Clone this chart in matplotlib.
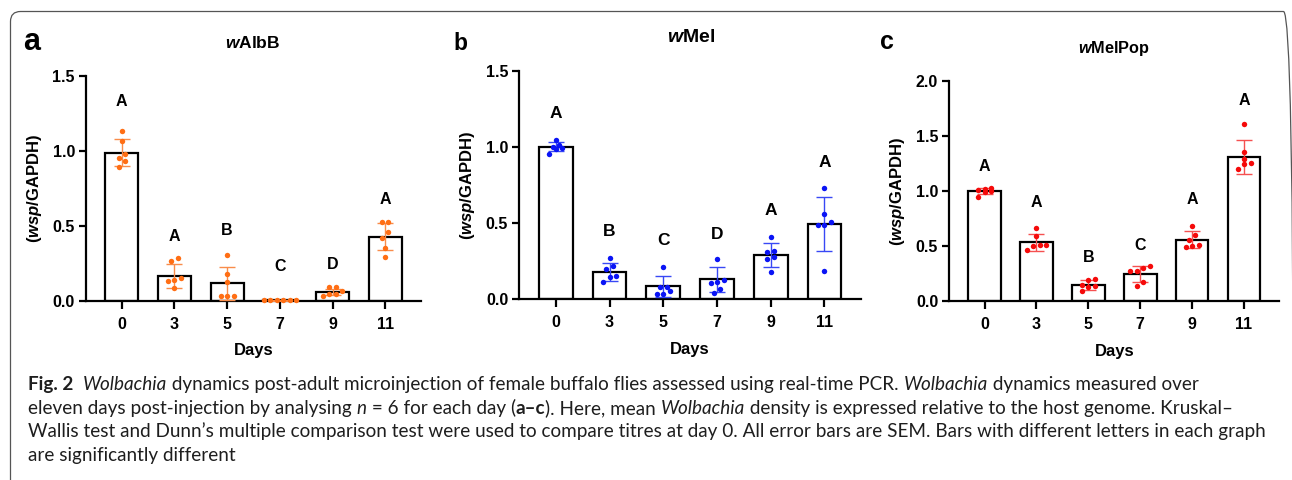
import numpy as np
import matplotlib
matplotlib.use("Agg")
import matplotlib.pyplot as plt
from matplotlib.patches import FancyBboxPatch
from matplotlib.transforms import IdentityTransform

plt.rcParams['font.family'] = ['Liberation Sans', 'DejaVu Sans']
plt.rcParams['font.weight'] = 'bold'
plt.rcParams['mathtext.fontset'] = 'custom'
plt.rcParams['mathtext.it'] = 'Liberation Sans:italic:bold'
plt.rcParams['mathtext.rm'] = 'Liberation Sans:bold'

W, H = 1292, 480

# ---- data ----
days = ['0', '3', '5', '7', '9', '11']

means_albb = [0.99, 0.17, 0.12, 0.005, 0.06, 0.43]
err_albb = [0.09, 0.08, 0.11, 0.003, 0.02, 0.09]
pts_albb = [[1.135, 1.067, 0.978, 0.955, 0.935, 0.895],
            [0.264, 0.287, 0.155, 0.138, 0.131, 0.085],
            [0.305, 0.182, 0.127, 0.036, 0.031, 0.036],
            [0.006, 0.005, 0.004, 0.006, 0.005, 0.004],
            [0.069, 0.091, 0.091, 0.049, 0.047, 0.035],
            [0.524, 0.529, 0.458, 0.420, 0.356, 0.296]]
letters_albb = ['A', 'A', 'B', 'C', 'D', 'A']
letter_y_albb = [1.33, 0.433, 0.467, 0.229, 0.245, 0.68]

means_mel = [1.0, 0.18, 0.085, 0.13, 0.29, 0.495]
err_mel = [0.03, 0.06, 0.07, 0.085, 0.08, 0.175]
pts_mel = [[1.000, 1.010, 1.045, 0.990, 0.985, 0.955],
           [0.269, 0.220, 0.200, 0.151, 0.144, 0.111],
           [0.214, 0.083, 0.079, 0.054, 0.033, 0.033],
           [0.262, 0.125, 0.114, 0.109, 0.066, 0.039],
           [0.411, 0.317, 0.310, 0.276, 0.262, 0.181],
           [0.730, 0.560, 0.507, 0.490, 0.490, 0.188]]
letters_mel = ['A', 'B', 'C', 'D', 'A', 'A']
letter_y_mel = [1.22, 0.444, 0.389, 0.428, 0.581, 0.899]

means_pop = [1.0, 0.535, 0.145, 0.25, 0.56, 1.31]
err_pop = [0.03, 0.08, 0.045, 0.075, 0.08, 0.155]
pts_pop = [[1.010, 1.016, 1.031, 0.992, 1.000, 0.949],
           [0.668, 0.595, 0.514, 0.510, 0.505, 0.463],
           [0.190, 0.202, 0.151, 0.130, 0.139, 0.091],
           [0.305, 0.318, 0.278, 0.278, 0.178, 0.139],
           [0.686, 0.600, 0.559, 0.514, 0.495, 0.504],
           [1.606, 1.352, 1.289, 1.258, 1.250, 1.200]]
letters_pop = ['A', 'A', 'B', 'C', 'A', 'A']
letter_y_pop = [1.228, 0.895, 0.396, 0.511, 0.928, 1.827]


def swarm_offsets(ax, xc, vals, d=6.5):
    """GraphPad-like scatter: points closer than d px in y share a centred row."""
    to_px = ax.transData.transform
    ypx = [to_px((xc, v))[1] for v in vals]
    order = np.argsort(ypx)
    px_per_x = to_px((1, 0))[0] - to_px((0, 0))[0]
    offs = np.zeros(len(vals))
    i = 0
    while i < len(order):
        row = [order[i]]
        j = i + 1
        while j < len(order) and ypx[order[j]] - ypx[order[i]] < d:
            row.append(order[j])
            j += 1
        n = len(row)
        for r, k in enumerate(row):
            offs[k] = (r - (n - 1) / 2) * d / px_per_x
        i = j
    return offs


def draw_panel(rect, means, errs, pts, letters, letter_y, ymax, col, ecol, lsize):
    ax = fig.add_axes(rect)
    x = np.arange(len(days))
    ax.set_xlim(-0.68, 5.68)
    ax.set_ylim(0, ymax)
    ax.bar(x, means, width=0.63, color='white', edgecolor='black', linewidth=1.6, zorder=2)
    ax.errorbar(x, means, yerr=errs, fmt='none', ecolor=ecol, elinewidth=1.0,
                capsize=6, capthick=1.0, zorder=3)
    for i in range(len(days)):
        offs = swarm_offsets(ax, x[i], pts[i])
        ax.plot(x[i] + offs, pts[i], 'o', color=col, ms=3.9, mew=0, zorder=4, clip_on=False)
        ax.text(x[i], letter_y[i], letters[i], ha='center', va='center', fontsize=lsize,
                fontweight='bold')
    for s in ['top', 'right']:
        ax.spines[s].set_visible(False)
    for s in ['left', 'bottom']:
        ax.spines[s].set_linewidth(1.6)
    ax.set_xticks(x)
    ax.set_xticklabels(days)
    yt = np.arange(0, ymax + 0.01, 0.5)
    ax.set_yticks(yt)
    ax.set_yticklabels([f'{v:.1f}' for v in yt])
    ax.tick_params(axis='y', direction='out', width=1.6, length=5, labelsize=11.5, pad=3)
    ax.tick_params(axis='x', direction='out', width=1.6, length=6, labelsize=11.5, pad=5.5)
    ax.set_xlabel('Days', fontsize=12, fontweight='bold')
    ax.xaxis.set_label_coords(0.5, -50 / (rect[3] * H))
    ax.xaxis.label.set_va('center')
    ax.set_ylabel(r'($\mathit{wsp}$/GAPDH)', fontsize=12, fontweight='bold')
    ax.yaxis.set_label_coords(-52 / (rect[2] * W), 0.5)
    ax.yaxis.label.set_va('center')
    return ax


fig = plt.figure(figsize=(W / 100, H / 100), dpi=100)

draw_panel([86 / W, 1 - 301 / H, 335 / W, 225 / H], means_albb, err_albb, pts_albb,
           letters_albb, letter_y_albb, 1.5, '#FF6E14', '#F98C4A', 11.5)
draw_panel([519.3 / W, 1 - 299.3 / H, 341.7 / W, 228.6 / H], means_mel, err_mel, pts_mel,
           letters_mel, letter_y_mel, 1.5, '#0A14F5', '#3848F5', 12.5)
draw_panel([949.3 / W, 1 - 301.3 / H, 330 / W, 220.3 / H], means_pop, err_pop, pts_pop,
           letters_pop, letter_y_pop, 2.0, '#F50A0A', '#F55050', 11.5)

# panel titles and letters
fig.text(253 / W, 1 - 43 / H, r'$\mathit{w}$AlbB', ha='center', va='center', fontsize=12.5)
fig.text(691 / W, 1 - 37 / H, r'$\mathit{w}$Mel', ha='center', va='center', fontsize=14)
fig.text(1114 / W, 1 - 49 / H, r'$\mathit{w}$MelPop', ha='center', va='center', fontsize=11.7)
fig.text(32 / W, 1 - 42 / H, 'a', ha='center', va='center', fontsize=22)
fig.text(460 / W, 1 - 44 / H, 'b', ha='center', va='center', fontsize=16.5)
fig.text(886.5 / W, 1 - 42 / H, 'c', ha='center', va='center', fontsize=18)

# border box
box = FancyBboxPatch((10.5, -30), 1283, 469 + 30 - 0.5,
                     boxstyle='round,pad=0,rounding_size=10',
                     transform=IdentityTransform(), fill=False,
                     edgecolor='#555555', linewidth=0.9)
fig.add_artist(box)

# caption
renderer = fig.canvas.get_renderer()
cap_font = ['Lato', 'DejaVu Sans']
N, I, B = ('normal', 'normal'), ('normal', 'italic'), ('bold', 'normal')


def text_w(s, size, st):
    t = fig.text(0, 0, s, fontsize=size, family=cap_font, fontweight=st[0], style=st[1])
    w = t.get_window_extent(renderer).width
    t.remove()
    return w


def advance(s, size, st):
    return text_w('x' + s + 'x', size, st) - text_w('xx', size, st)


cap_lines = [
    [('Fig. 2', B), ('  ', N), ('Wolbachia', I),
     (' dynamics post-adult microinjection of female buffalo flies assessed using real-time PCR. ', N),
     ('Wolbachia', I), (' dynamics measured over', N)],
    [('eleven days post-injection by analysing ', N), ('n', I), (' = 6 for each day (', N),
     ('a\u2013c', B), ('). Here, mean ', N), ('Wolbachia', I),
     (' density is expressed relative to the host genome. Kruskal\u2013', N)],
    [('Wallis test and Dunn\u2019s multiple comparison test were used to compare titres at day 0. '
      'All error bars are SEM. Bars with different letters in each graph', N)],
    [('are significantly different', N)],
]
cap_baselines = [390, 413.7, 437.4, 461.1]

ref = advance(cap_lines[2][0][0], 10, N)
cap_size = 10 * (1261 - 28) / ref

for pieces, yb in zip(cap_lines, cap_baselines):
    xpos = 28
    for s, st in pieces:
        fig.text(xpos / W, 1 - yb / H, s, fontsize=cap_size, family=cap_font,
                 fontweight=st[0], style=st[1], va='baseline', ha='left', color='#1e1e1e')
        xpos += advance(s, cap_size, st)

fig.savefig('out.png', dpi=100)
